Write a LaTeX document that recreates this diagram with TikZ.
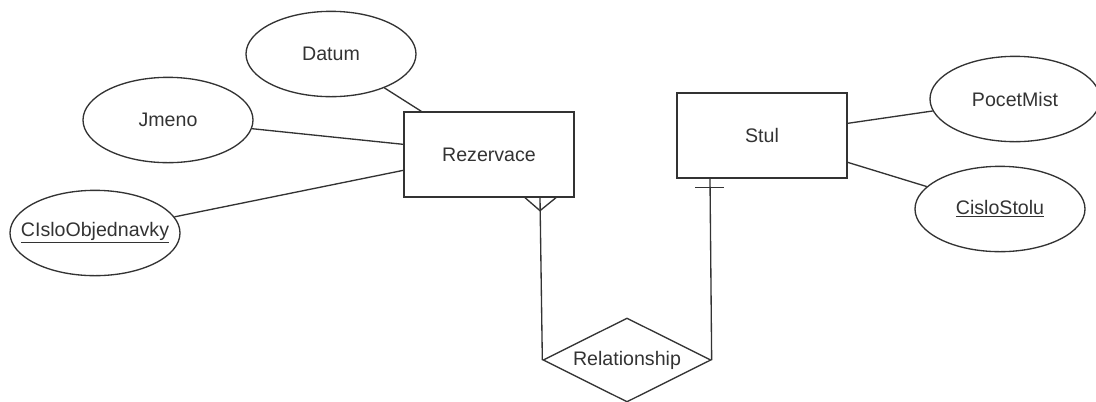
\documentclass[tikz,border=0pt]{standalone}
\usepackage{fontspec}
\setmainfont{Liberation Sans}
\usetikzlibrary{shapes.geometric,calc}
\definecolor{ink}{HTML}{333333}
\tikzset{
  px/.style={x=0.75pt,y=-0.75pt},
  base/.style={draw=ink,line width=1pt,text=ink,font=\fontsize{14.7pt}{17pt}\selectfont,inner sep=0pt},
  attr/.style={base,ellipse,minimum width=127.5pt,minimum height=64pt},
  entity/.style={base,rectangle,minimum width=127.5pt,minimum height=63.75pt},
  rel/.style={base,diamond,aspect=2,minimum width=126pt,minimum height=63pt},
  link/.style={draw=ink,line width=1pt},
}
% attribute label that does not widen its ellipse
\newcommand{\attrtext}[1]{\makebox[0pt]{#1}}
\newcommand{\keyline}[1]{\makebox[0pt]{\underline{#1}}}
\begin{document}
\begin{tikzpicture}[px]
\useasboundingbox (0,0) rectangle (1096,401);
% entities
\node[entity] (rez) at (489,154.5) {Rezervace};
\node[entity] (stul) at (762,135.5) {Stul};
% attributes of Rezervace
\node[attr] (datum) at (331,54) {\attrtext{Datum}};
\node[attr] (jmeno) at (168,120) {\attrtext{Jmeno}};
\node[attr] (cislo) at (95,233) {\keyline{CIsloObjednavky}};
% attributes of Stul
\node[attr] (pocet) at (1015,99) {\attrtext{PocetMist}};
\node[attr] (stolu) at (1000,209) {\keyline{CisloStolu}};
% relationship
\node[rel] (relship) at (627,360) {Relationship};

% attribute anchor points on the entity borders
\coordinate (rd) at ($(rez.north west)+(18,0)$);
\coordinate (rj) at ($(rez.north west)+(0,33)$);
\coordinate (rc) at ($(rez.north west)+(0,59)$);
\coordinate (sp) at ($(stul.north east)+(0,31)$);
\coordinate (ss) at ($(stul.north east)+(0,70)$);
\draw[link] (datum) -- (rd);
\draw[link] (jmeno) -- (rj);
\draw[link] (cislo) -- (rc);
\draw[link] (pocet) -- (sp);
\draw[link] (stolu) -- (ss);

% many side: crow's foot at Rezervace
\coordinate (rf) at (rez.south -| 540,0);
\coordinate (rfl) at ($(rf)+(-15,0)$);
\coordinate (rfr) at ($(rf)+(16,0)$);
\coordinate (rfp) at ($(rf)+(0,13)$);
\draw[link] (rf) -- (relship.west);
\draw[link] (rfl) -- (rfp) -- (rfr);

% one side: bar at Stul
\coordinate (sf) at (stul.south -| 710,0);
\coordinate (sbl) at ($(sf)+(-15,9)$);
\coordinate (sbr) at ($(sf)+(14,9)$);
\draw[link] (sf) -- (relship.east);
\draw[link] (sbl) -- (sbr);
\end{tikzpicture}
\end{document}
